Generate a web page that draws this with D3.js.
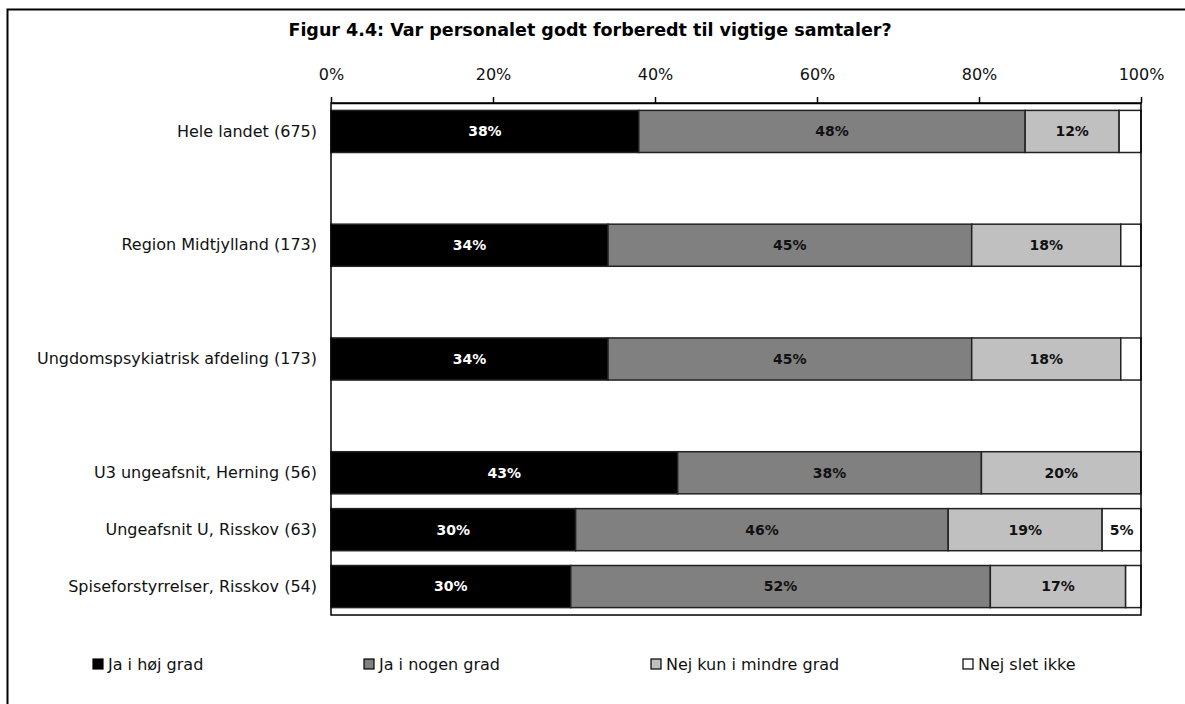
<!DOCTYPE html>
<html lang="da">
  <head>
    <meta charset="utf-8" />
    <script src="https://cdn.jsdelivr.net/npm/d3@7/dist/d3.min.js"></script>
    <style>
      body { margin: 0; background: #fff; }
      text { font-family: "DejaVu Sans", sans-serif; }
      .axis path, .axis line { stroke: #000; stroke-width: 1.5; }
      .axis text { font-size: 16px; fill: #111; }
    </style>
  </head>
  <body>
    <div id="container"></div>

    <script>
      // categories, with empty rows between the top three groups
      const categories = [
        "Hele landet (675)", "_gap1",
        "Region Midtjylland (173)", "_gap2",
        "Ungdomspsykiatrisk afdeling (173)", "_gap3",
        "U3 ungeafsnit, Herning (56)",
        "Ungeafsnit U, Risskov (63)",
        "Spiseforstyrrelser, Risskov (54)"
      ];
      const seriesNames = ["Ja i høj grad", "Ja i nogen grad", "Nej kun i mindre grad", "Nej slet ikke"];
      const jaHoej   = [38.0, null, 34.2, null, 34.2, null, 42.8, 30.2, 29.6];
      const jaNogen  = [47.7, null, 44.9, null, 44.9, null, 37.5, 46.0, 51.8];
      const nejMindre = [11.6, null, 18.4, null, 18.4, null, 19.7, 19.0, 16.7];
      const nejSlet  = [2.7, null, 2.5, null, 2.5, null, 0, 4.8, 1.9];
      const tickValues = [0, 20, 40, 60, 80, 100];

      const colors = ["#000000", "#808080", "#c0c0c0", "#ffffff"];
      const labelColors = ["#fff", "#111", "#111", "#111"];

      const width = 1185, height = 704;
      const margin = { top: 103, right: 44, bottom: 89, left: 331 };

      const svg = d3.select("#container").append("svg")
        .attr("width", width).attr("height", height);

      // outer frame
      svg.append("rect").attr("x", 7.5).attr("y", 9.5)
        .attr("width", 1300).attr("height", 900)
        .attr("fill", "none").attr("stroke", "#000").attr("stroke-width", 2);

      svg.append("text")
        .attr("x", 590).attr("y", 36)
        .attr("text-anchor", "middle")
        .style("font-size", "17.5px").style("font-weight", "bold")
        .text("Figur 4.4: Var personalet godt forberedt til vigtige samtaler?");

      const x = d3.scaleLinear().domain([0, 100]).range([margin.left, width - margin.right]);
      const y = d3.scaleBand().domain(categories)
        .range([margin.top, height - margin.bottom]).paddingInner(0.26).paddingOuter(0.13);

      const rows = categories.map((c, i) => ({
        cat: c, vals: [jaHoej[i], jaNogen[i], nejMindre[i], nejSlet[i]]
      })).filter(d => d.vals[0] != null);

      const stacked = [];
      rows.forEach(r => {
        let acc = 0;
        r.vals.forEach((v, k) => {
          stacked.push({ cat: r.cat, k, v, x0: acc, x1: acc + v });
          acc += v;
        });
      });

      const g = svg.append("g");
      g.selectAll("rect").data(stacked.filter(d => d.v > 0)).join("rect")
        .attr("x", d => x(d.x0))
        .attr("y", d => y(d.cat))
        .attr("width", d => x(d.x1) - x(d.x0))
        .attr("height", y.bandwidth())
        .attr("fill", d => colors[d.k])
        .attr("stroke", "#222").attr("stroke-width", 1.5);

      g.selectAll("text").data(stacked.filter(d => d.v >= 4)).join("text")
        .attr("x", d => (x(d.x0) + x(d.x1)) / 2)
        .attr("y", d => y(d.cat) + y.bandwidth() / 2)
        .attr("dy", "0.35em")
        .attr("text-anchor", "middle")
        .attr("fill", d => labelColors[d.k])
        .style("font-size", "14px").style("font-weight", "bold")
        .text(d => Math.round(d.v) + "%");

      // plot frame
      svg.append("rect")
        .attr("x", margin.left).attr("y", margin.top)
        .attr("width", width - margin.right - margin.left)
        .attr("height", height - margin.bottom - margin.top)
        .attr("fill", "none").attr("stroke", "#000").attr("stroke-width", 1.5);

      svg.append("g").attr("class", "axis")
        .attr("transform", `translate(0,${margin.top})`)
        .call(d3.axisTop(x).tickValues(tickValues).tickFormat(d => d + "%").tickSize(6).tickSizeOuter(0).tickPadding(17));

      svg.append("g").attr("class", "axis")
        .attr("transform", `translate(${margin.left},0)`)
        .call(d3.axisLeft(y).tickSize(0).tickPadding(14).tickFormat(d => d.startsWith("_") ? "" : d))
        .call(a => a.select(".domain").remove());

      // legend
      const legendX = [93, 364, 651, 963];
      const legend = svg.append("g").selectAll("g").data(seriesNames).join("g")
        .attr("transform", (d, i) => `translate(${legendX[i]},664)`);
      legend.append("rect").attr("x", 0).attr("y", -5).attr("width", 10).attr("height", 10)
        .attr("fill", (d, i) => colors[i]).attr("stroke", "#000").attr("stroke-width", 1.2);
      legend.append("text").attr("x", 15).attr("dy", "0.35em")
        .style("font-size", "16px").attr("fill", "#111").text(d => d);
    </script>
  </body>
</html>
